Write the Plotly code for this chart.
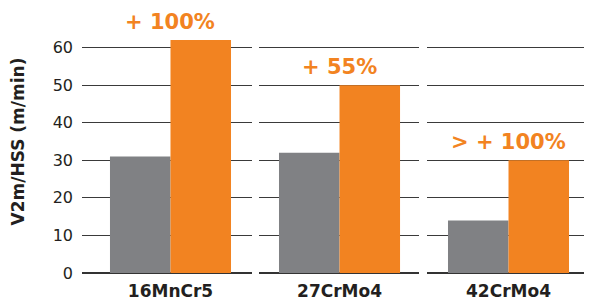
import plotly.graph_objects as go
from plotly.subplots import make_subplots

# ---- data ----
categories = ["16MnCr5", "27CrMo4", "42CrMo4"]
hss_values = [31, 32, 14]          # grey bars
new_values = [62, 50, 30]          # orange bars
gain_labels = ["+ 100%", "+ 55%", "> + 100%"]
y_ticks = [0, 10, 20, 30, 40, 50, 60]

GREY = "#808184"
ORANGE = "#F28321"
DARK = "#231F20"
FONT = "DejaVu Sans"

fig = make_subplots(rows=1, cols=3, shared_yaxes=True, horizontal_spacing=0)

for i, cat in enumerate(categories):
    fig.add_trace(go.Bar(x=[cat], y=[hss_values[i]], marker_color=GREY,
                         marker_line_width=0, showlegend=False), row=1, col=i + 1)
    fig.add_trace(go.Bar(x=[cat], y=[new_values[i]], marker_color=ORANGE,
                         marker_line_width=0, showlegend=False), row=1, col=i + 1)
    fig.add_annotation(x=cat, y=new_values[i], xref=f"x{i+1}" if i else "x",
                       yref=f"y{i+1}" if i else "y", text=gain_labels[i],
                       showarrow=False, yanchor="middle", yshift=18,
                       font=dict(family=FONT, size=21, color=ORANGE, weight="bold"))

# panel layout (paper fractions) and ranges so that 1 category unit has equal pixels
domains = [[0.0, 0.3333], [0.3471, 0.6608], [0.6765, 1.0]]
ranges = [[-0.5206, 0.4794], [-0.4735, 0.4676], [-0.4794, 0.4912]]

for i in range(3):
    fig.update_xaxes(domain=domains[i], range=ranges[i], type="category",
                     showgrid=False, zeroline=False, showline=False, ticks="",
                     automargin=False, ticklabelstandoff=6,
                     tickfont=dict(family=FONT, size=17, color=DARK, weight="bold"),
                     row=1, col=i + 1)
    fig.update_yaxes(range=[0, 70], tickvals=y_ticks, showgrid=True,
                     gridcolor="#3a3a3a", gridwidth=1, zeroline=True,
                     zerolinecolor="#333333", zerolinewidth=2, showline=False,
                     automargin=False, ticks="", row=1, col=i + 1)

fig.update_yaxes(row=1, col=1, ticklabelstandoff=8, automargin=True,
                 tickfont=dict(family=FONT, size=16, color=DARK),
                 title=dict(text="V2m/HSS (m/min)", standoff=24,
                            font=dict(family=FONT, size=17, color=DARK, weight="bold")))

# the page body has an 8px margin, so the figure is sized to fit the window
fig.update_layout(width=584, height=296, barmode="group", bargap=0.288, bargroupgap=0,
                  margin=dict(l=74, r=0, t=2, b=31),
                  paper_bgcolor="white", plot_bgcolor="white")

fig.write_html("out.html")
